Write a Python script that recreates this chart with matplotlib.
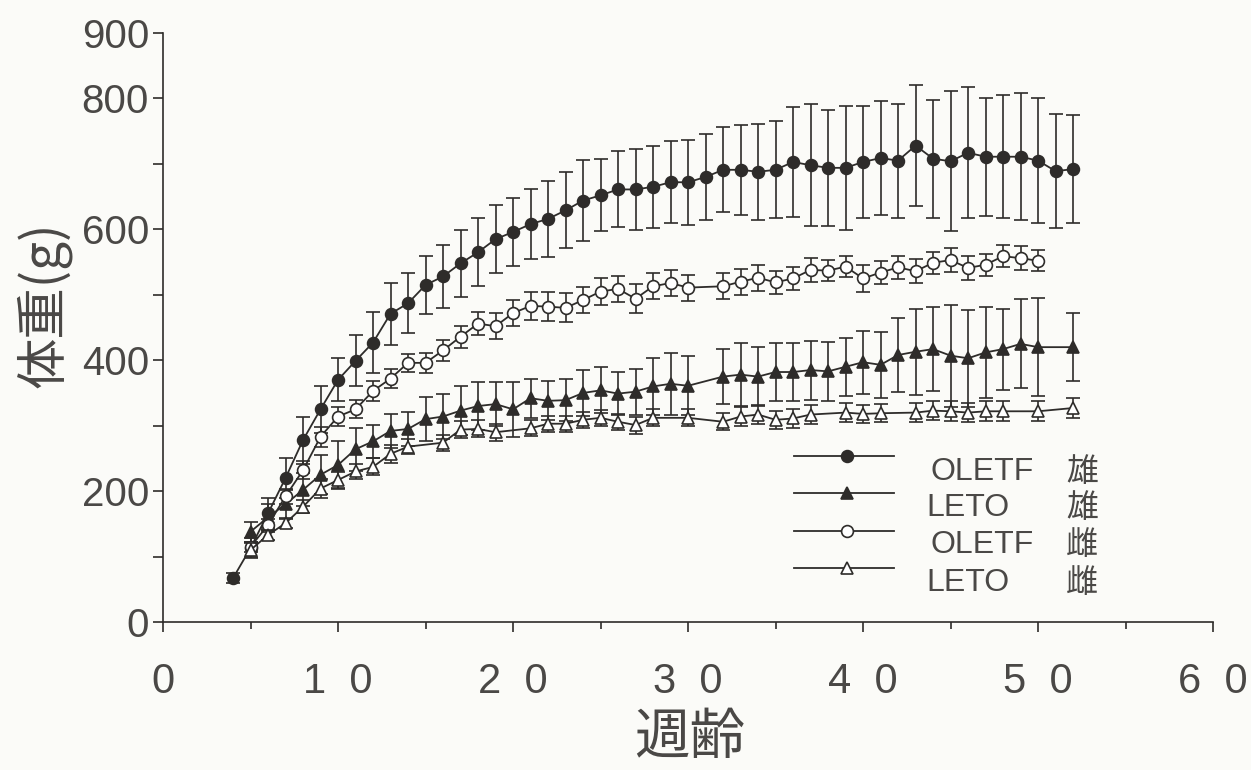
import numpy as np
import matplotlib
matplotlib.use("Agg")
import matplotlib.pyplot as plt

# 体重の推移 (週齢ごと、平均 ± SD)
# OLETF 雄
wk_om = [4, 5, 6, 7, 8, 9, 10, 11, 12, 13, 14, 15, 16, 17, 18, 19, 20, 21, 22, 23, 24, 25, 26, 27, 28,
         29, 30, 31, 32, 33, 34, 35, 36, 37, 38, 39, 40, 41, 42, 43, 44, 45, 46, 47, 48, 49, 50, 51, 52]
bw_om = [67, 113, 166, 220, 278, 325, 370, 399, 427, 471, 487, 515, 528, 548, 565, 585, 596, 608, 616,
         629, 644, 652, 661, 661, 665, 672, 672, 680, 691, 691, 688, 691, 703, 698, 694, 694, 703, 709,
         705, 728, 708, 704, 717, 711, 711, 711, 705, 689, 692]
sd_om = [8, 15, 23, 30, 36, 36, 33, 39, 47, 47, 46, 45, 48, 51, 52, 52, 52, 54, 58, 58, 62, 55, 58, 62,
         63, 63, 65, 66, 65, 69, 73, 74, 84, 93, 89, 95, 85, 87, 87, 92, 90, 107, 100, 90, 94, 97, 95,
         87, 82]

# LETO 雄
wk_lm = [5, 6, 7, 8, 9, 10, 11, 12, 13, 14, 15, 16, 17, 18, 19, 20, 21, 22, 23, 24, 25, 26, 27, 28, 29,
         30, 32, 33, 34, 35, 36, 37, 38, 39, 40, 41, 42, 43, 44, 45, 46, 47, 48, 49, 50, 52]
bw_lm = [138, 160, 180, 202, 225, 240, 264, 276, 292, 295, 310, 314, 323, 330, 333, 325, 342, 338, 339,
         350, 354, 349, 352, 360, 364, 361, 375, 378, 375, 382, 382, 385, 383, 390, 397, 393, 408, 413,
         417, 407, 403, 412, 417, 425, 420, 420]
sd_lm = [15, 20, 22, 25, 30, 36, 33, 25, 26, 26, 34, 34, 37, 37, 33, 42, 30, 30, 32, 35, 35, 33, 35, 43,
         47, 45, 42, 48, 45, 44, 44, 45, 45, 44, 48, 50, 57, 66, 64, 78, 74, 70, 62, 68, 75, 52]

# OLETF 雌
wk_of = [5, 6, 7, 8, 9, 10, 11, 12, 13, 14, 15, 16, 17, 18, 19, 20, 21, 22, 23, 24, 25, 26, 27, 28, 29,
         30, 32, 33, 34, 35, 36, 37, 38, 39, 40, 41, 42, 43, 44, 45, 46, 47, 48, 49, 50]
bw_of = [115, 148, 192, 232, 283, 314, 325, 353, 372, 396, 396, 415, 436, 456, 452, 472, 483, 482, 480,
         492, 505, 509, 494, 513, 518, 511, 513, 520, 526, 519, 525, 538, 537, 543, 525, 534, 542, 536,
         549, 553, 541, 546, 559, 556, 552]
sd_of = [8, 10, 12, 14, 15, 15, 14, 15, 15, 14, 15, 16, 17, 18, 20, 20, 22, 22, 22, 20, 20, 20, 22, 20,
         20, 20, 20, 20, 20, 18, 18, 18, 16, 16, 20, 18, 18, 18, 17, 18, 18, 17, 17, 18, 16]

# LETO 雌
wk_lf = [5, 6, 7, 8, 9, 10, 11, 12, 13, 14, 16, 17, 18, 19, 21, 22, 23, 24, 25, 26, 27, 28, 30, 32, 33,
         34, 35, 36, 37, 39, 40, 41, 43, 44, 45, 46, 47, 48, 50, 52]
bw_lf = [110, 133, 151, 176, 204, 217, 230, 237, 257, 268, 274, 294, 295, 290, 296, 303, 303, 309, 312,
         306, 301, 312, 312, 306, 314, 317, 309, 311, 317, 320, 318, 319, 320, 323, 322, 320, 322, 322,
         322, 327]
sd_lf = [10, 8, 8, 10, 15, 12, 12, 13, 14, 12, 12, 13, 13, 13, 12, 12, 12, 12, 12, 12, 13, 13, 13, 13,
         14, 14, 14, 14, 14, 14, 14, 14, 14, 14, 15, 15, 15, 15, 15, 16]

x_ticks = [0, 10, 20, 30, 40, 50, 60]
x_ticklabels = ["0", "1  0", "2  0", "3  0", "4  0", "5  0", "6  0"]
y_ticks = [0, 100, 200, 300, 400, 500, 600, 700, 800, 900]
y_ticklabels = ["0", "", "200", "", "400", "", "600", "", "800", "900"]

labels_name = ["OLETF", "LETO", "OLETF", "LETO"]
labels_sex = ["雄", "雄", "雌", "雌"]

ink = "#2e2c2a"
txt = "#4a4846"
bg = "#fbfbf8"
jp = ["Noto Sans CJK JP", "DejaVu Sans"]

fig = plt.figure(figsize=(12.51, 7.70), dpi=100, facecolor=bg)
ax = fig.add_axes([0.1303, 0.1922, 0.8394, 0.7649])
ax.set_facecolor(bg)

series = [
    (wk_om, bw_om, sd_om, "o", ink),
    (wk_lm, bw_lm, sd_lm, "^", ink),
    (wk_of, bw_of, sd_of, "o", "white"),
    (wk_lf, bw_lf, sd_lf, "^", "white"),
]
for i, (wk, bw, sd, mk, fc) in enumerate(series):
    ax.errorbar(wk, bw, yerr=sd, fmt="-", marker=mk, ms=8.5 if mk == "o" else 8,
                mfc=fc, mec=ink, mew=1.2, color=ink, lw=1.3,
                ecolor=ink, elinewidth=1.2, capsize=5, capthick=1.2, zorder=3 + i)

ax.set_xlim(0, 60)
ax.set_ylim(0, 900)
ax.set_xticks(x_ticks)
ax.set_xticklabels(x_ticklabels)
ax.set_xticks([5, 15, 25, 35, 45, 55], minor=True)
ax.set_yticks(y_ticks)
ax.set_yticklabels(y_ticklabels)

for s in ["top", "right"]:
    ax.spines[s].set_visible(False)
for s in ["left", "bottom"]:
    ax.spines[s].set_color(ink)
    ax.spines[s].set_linewidth(1.2)

ax.tick_params(axis="y", direction="out", length=7, width=1.2, color=ink, pad=3,
               labelsize=29, labelcolor=txt)
ax.tick_params(axis="x", which="major", direction="out", length=7, width=1.2, color=ink,
               pad=22, labelsize=30, labelcolor=txt)
ax.tick_params(axis="x", which="minor", direction="out", length=5, width=1.2, color=ink)
for lb in ax.get_yticklabels():
    lb.set_family(["Liberation Sans", "DejaVu Sans"])
for lb in ax.get_xticklabels():
    lb.set_family(["Liberation Sans", "DejaVu Sans"])

# 凡例
leg_y = [0.282, 0.219, 0.154, 0.092]
txt_y = [0.255, 0.194, 0.131, 0.066]
name_x = [0.731, 0.727, 0.731, 0.727]
for i, (wk, bw, sd, mk, fc) in enumerate(series):
    ax.plot([0.601, 0.696], [leg_y[i], leg_y[i]], color=ink, lw=1.3,
            transform=ax.transAxes, clip_on=False, zorder=8)
    ax.plot([0.651], [leg_y[i]], marker=mk, ms=8.5 if mk == "o" else 8, mfc=fc, mec=ink,
            mew=1.2, transform=ax.transAxes, clip_on=False, zorder=9)
    ax.text(name_x[i], txt_y[i], labels_name[i], transform=ax.transAxes, fontsize=23,
            color=txt, va="center", ha="left", family=["Liberation Sans", "DejaVu Sans"])
    ax.text(0.875, txt_y[i], labels_sex[i], transform=ax.transAxes, fontsize=23,
            color=txt, va="center", ha="center", family=jp)

fig.text(44 / 1251, 1 - 305 / 770, "体重(g)", rotation=90, fontsize=37, color=txt,
         ha="center", va="center", family=jp)
fig.text(690 / 1251, 1 - 710 / 770, "週齢", fontsize=40, color=txt,
         ha="center", va="top", family=jp)

fig.savefig("out.png", dpi=100, facecolor=bg)
